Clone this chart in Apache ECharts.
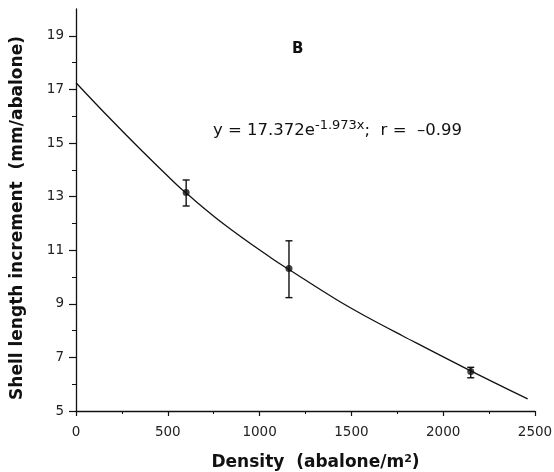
<!DOCTYPE html>
<html><head><meta charset="utf-8">
<script src="https://cdn.jsdelivr.net/npm/echarts@6/dist/echarts.min.js"></script>
<style>html,body{margin:0;padding:0;background:#fff}#c{width:554px;height:472px}</style>
</head><body><div id="c"></div>
<script>
// Observed means with error bars
var densities = [600, 1160, 2150];
var increments = [13.15, 10.32, 6.47];
var errLow = [12.65, 9.23, 6.24];
var errHigh = [13.62, 11.35, 6.63];
// Fitted curve
var curveX = [0, 180, 360, 540, 600, 810, 1065, 1160, 1420, 1600, 1780, 2120, 2460];
var curveY = [17.25, 15.95, 14.7, 13.5, 13.13, 11.95, 10.7, 10.28, 9.15, 8.45, 7.8, 6.6, 5.45];
// Tick labels
var yMajor = [5, 7, 9, 11, 13, 15, 17, 19];
var yMinor = [6, 8, 10, 12, 14, 16, 18];

var FONT = '"DejaVu Sans", sans-serif';
var chart = echarts.init(document.getElementById('c'));
chart.setOption({
  animation: false,
  grid: {left: 76, right: 19, top: 9, bottom: 61, containLabel: false, outerBoundsMode: 'none'},
  xAxis: {
    type: 'value', min: 0, max: 2500, interval: 500,
    axisLine: {lineStyle: {color: '#111', width: 1.3}},
    axisTick: {length: 5, lineStyle: {color: '#111', width: 1.2}},
    minorTick: {show: true, splitNumber: 2, length: 3, lineStyle: {color: '#111', width: 1}},
    splitLine: {show: false},
    axisLabel: {color: '#222', fontFamily: FONT, fontSize: 13.5, margin: 14,
      formatter: function (v) { return String(v); }},
    name: 'Density  (abalone/m{sup|2})',
    nameLocation: 'middle', nameGap: 43,
    nameTextStyle: {color: '#111', fontFamily: FONT, fontSize: 17, fontWeight: 'bold',
      padding: [0, 0, 0, 20],
      rich: {sup: {fontSize: 11, fontWeight: 'bold', fontFamily: FONT, verticalAlign: 'top', color: '#111'}}}
  },
  yAxis: [{
    type: 'value', min: 5, max: 20, interval: 1,
    axisLine: {show: true, lineStyle: {color: '#111', width: 1.3}},
    axisTick: {show: true, customValues: yMajor, length: 7, lineStyle: {color: '#111', width: 1.2}},
    splitLine: {show: false},
    axisLabel: {customValues: yMajor, color: '#222', fontFamily: FONT, fontSize: 13.5, margin: 12},
    name: 'Shell length increment  (mm/abalone)',
    nameLocation: 'middle', nameGap: 50, nameRotate: 90,
    nameTextStyle: {color: '#111', fontFamily: FONT, fontSize: 17, fontWeight: 'bold',
      padding: [0, 16, 0, 0]}
  }, {
    type: 'value', min: 5, max: 20, interval: 1, position: 'left',
    axisLine: {show: false},
    axisTick: {show: true, customValues: yMinor, length: 4, lineStyle: {color: '#111', width: 1}},
    axisLabel: {show: false},
    splitLine: {show: false}
  }],
  series: [{
    type: 'line',
    data: curveX.map(function (x, i) { return [x, curveY[i]]; }),
    smooth: 0.4, showSymbol: false,
    lineStyle: {color: '#111', width: 1.3}
  }, {
    type: 'custom',
    data: densities.map(function (x, i) { return [x, errLow[i], errHigh[i]]; }),
    renderItem: function (params, api) {
      var lo = api.coord([api.value(0), api.value(1)]);
      var hi = api.coord([api.value(0), api.value(2)]);
      var w = 3.5;
      var st = {stroke: '#111', lineWidth: 1.4};
      return {type: 'group', children: [
        {type: 'line', shape: {x1: lo[0], y1: lo[1], x2: hi[0], y2: hi[1]}, style: st},
        {type: 'line', shape: {x1: lo[0] - w, y1: lo[1], x2: lo[0] + w, y2: lo[1]}, style: st},
        {type: 'line', shape: {x1: hi[0] - w, y1: hi[1], x2: hi[0] + w, y2: hi[1]}, style: st}
      ]};
    },
    z: 3
  }, {
    type: 'scatter',
    data: densities.map(function (x, i) { return [x, increments[i]]; }),
    symbol: 'circle', symbolSize: 7,
    itemStyle: {color: '#111'}, z: 4
  }],
  graphic: [{
    type: 'text', left: 292, top: 42,
    style: {text: 'B', fontFamily: FONT, fontSize: 15, fontWeight: 'bold', fill: '#111'}
  }, {
    type: 'text', left: 213, top: 119,
    style: {
      text: '{a|y = 17.372e}{sup|-1.973x}{a|;  r =  \u20130.99}',
      fontFamily: FONT, fontSize: 16.5, fill: '#111',
      rich: {
        a: {fontSize: 16.5, fontFamily: FONT, verticalAlign: 'bottom', fill: '#111'},
        sup: {fontSize: 13, lineHeight: 20, fontFamily: FONT, verticalAlign: 'top', fill: '#111'}
      }
    }
  }]
});
</script>
</body></html>
